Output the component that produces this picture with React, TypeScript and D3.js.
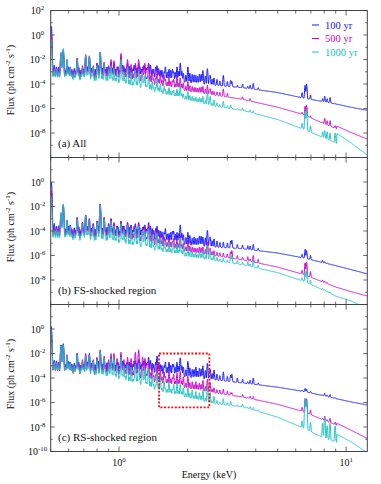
import React from 'react';
import * as d3 from 'd3';

const AGES = ['100 yr', '500 yr', '1000 yr'];
const COLORS = ['#1414ff', '#c800c8', '#20c0c0'];
const PANEL_LABELS = ['(a) All', '(b) FS-shocked region', '(c) RS-shocked region'];
const Y_LABELS = [[2, 0, -2, -4, -6, -8], [0, -2, -4, -6, -8], [0, -2, -4, -6, -8, -10]];
const X_LABELS = [1, 10];

// continuum knots (keV) and log10 flux per panel / age
const CONT_E = [0.5, 0.6, 0.75, 0.9, 1.1, 1.3, 1.6, 2.0, 2.6, 3.5, 5.0, 6.5, 8.0, 9.09, 9.11, 10.5, 12.4];

const CONT_ALL_100 = [-3.0, -3.3, -3.4, -3.4, -3.35, -3.4, -3.6, -3.9, -4.1, -4.3, -4.7, -5.15, -5.45, -5.65, -5.65, -5.9, -6.15];
const CONT_ALL_500 = [-3.3, -3.55, -3.65, -3.7, -3.8, -3.95, -4.2, -4.6, -4.9, -5.25, -5.9, -6.5, -7.25, -7.65, -7.45, -7.95, -8.5];
const CONT_ALL_1000 = [-3.4, -3.6, -3.8, -3.95, -4.2, -4.45, -4.85, -5.3, -5.8, -6.15, -6.9, -7.7, -8.4, -8.85, -8.05, -8.8, -9.8];

const CONT_FS_100 = [-3.9, -4.3, -4.45, -4.5, -4.5, -4.55, -4.8, -5.15, -5.3, -5.45, -5.8, -6.2, -6.6, -6.85, -6.85, -7.15, -7.5];
const CONT_FS_500 = [-4.3, -4.55, -4.65, -4.75, -4.85, -5.0, -5.3, -5.7, -6.0, -6.35, -6.95, -7.55, -8.2, -8.6, -8.6, -8.95, -9.3];
const CONT_FS_1000 = [-4.5, -4.7, -4.85, -5.0, -5.25, -5.45, -5.75, -6.1, -6.4, -6.75, -7.4, -8.1, -8.85, -9.35, -9.35, -9.7, -10.35];

const CONT_RS_100 = [-3.1, -3.35, -3.5, -3.55, -3.5, -3.5, -3.7, -3.95, -4.15, -4.4, -4.75, -5.1, -5.45, -5.7, -5.7, -5.95, -6.2];
const CONT_RS_500 = [-3.35, -3.6, -3.75, -3.9, -4.05, -4.2, -4.45, -4.85, -5.2, -5.55, -6.15, -6.75, -7.45, -7.85, -7.7, -8.25, -8.95];
const CONT_RS_1000 = [-3.3, -3.55, -3.8, -4.05, -4.4, -4.7, -5.2, -5.6, -6.1, -6.35, -7.2, -8.1, -8.9, -9.25, -8.6, -9.2, -10.1];

// strong emission lines (keV) and log10 peak flux per panel / age
const LINE_E = [
  0.503, 0.53, 0.555, 0.568, 0.59, 0.61, 0.654, 0.69, 0.713, 0.74,
  0.77, 0.80, 0.826, 0.86, 0.90, 0.922, 0.95, 0.98, 1.02, 1.05,
  1.09, 1.13, 1.18, 1.22, 1.27, 1.30, 1.35, 1.40, 1.47, 1.52,
  1.58, 1.66, 1.74, 1.80, 1.86, 1.92, 2.01, 2.10, 2.18, 2.26,
  2.34, 2.45, 2.52, 2.62, 2.88, 3.10, 3.14, 3.32, 3.69, 3.90,
  4.10, 6.40, 6.60, 6.70, 6.97, 7.88, 8.05, 8.25, 8.50, 8.95,
];

const LINE_ALL_100 = [
  0.7, -2.6, -1.5, -1.3, -2.2, -2.7, -1.9, -2.7, -1.75, -1.8,
  -2.7, -2.3, -1.5, -2.3, -2.6, -2.2, -2.3, -2.8, -1.8, -2.7,
  -2.3, -2.7, -2.5, -2.3, -2.8, -2.6, -2.3, -2.8, -2.5, -2.9,
  -3.0, -2.8, -3.0, -2.6, -2.3, -3.1, -2.6, -3.2, -3.3, -3.2,
  -2.9, -2.75, -3.3, -3.5, -3.3, -3.7, -3.8, -4.1, -4.2, -3.95,
  -4.3, -4.7, -4.1, -4.0, -4.9, -5.2, -5.0, -5.2, -5.1, -5.6,
];
const LINE_ALL_500 = [
  0.0, -2.7, -1.45, -1.2, -2.0, -2.6, -1.9, -2.5, -1.6, -1.7,
  -2.5, -2.3, -1.4, -2.2, -2.5, -2.0, -2.1, -2.6, -1.5, -2.5,
  -2.0, -2.4, -2.3, -2.0, -2.6, -2.3, -2.4, -2.9, -2.8, -3.2,
  -3.3, -3.5, -3.6, -3.4, -3.5, -3.9, -3.8, -4.2, -4.3, -4.3,
  -4.2, -4.1, -4.4, -4.6, -4.4, -5.2, -5.2, -5.4, -5.6, -5.45,
  -5.9, -6.3, -5.8, -5.75, -6.6, -7.1, -6.8, -7.0, -7.0, -7.4,
];
const LINE_ALL_1000 = [
  -0.4, -2.8, -1.4, -1.1, -2.0, -2.6, -2.0, -2.7, -1.65, -1.75,
  -2.6, -2.5, -1.4, -2.3, -2.8, -2.5, -2.7, -3.0, -2.0, -3.0,
  -2.6, -3.0, -2.9, -2.9, -3.2, -3.3, -3.3, -3.8, -3.6, -4.0,
  -4.2, -4.3, -4.5, -4.4, -4.1, -4.8, -4.6, -5.0, -5.1, -5.1,
  -5.0, -4.65, -5.0, -5.3, -5.4, -5.7, -5.9, -6.0, -6.3, -6.2,
  -6.6, -7.2, -6.2, -6.15, -7.4, -7.9, -7.8, -7.9, -8.0, -8.0,
];

const LINE_FS_100 = [
  0.0, -3.6, -2.6, -1.9, -3.2, -3.5, -2.9, -3.3, -2.7, -3.0,
  -3.4, -3.2, -1.8, -2.9, -3.4, -3.0, -3.4, -3.6, -3.2, -3.6,
  -3.3, -3.5, -3.4, -3.3, -3.7, -3.5, -3.3, -3.8, -3.6, -4.0,
  -4.1, -4.2, -4.0, -4.1, -3.5, -4.3, -4.1, -4.6, -4.6, -4.4,
  -4.5, -3.95, -4.5, -4.65, -4.9, -4.8, -4.75, -5.1, -5.2, -5.1,
  -5.4, -5.9, -5.5, -5.6, -6.0, -6.4, -6.5, -6.6, -6.7, -6.8,
];
const LINE_FS_500 = [
  -0.7, -3.8, -2.6, -1.85, -3.1, -3.6, -2.9, -3.3, -2.7, -3.0,
  -3.4, -3.2, -1.85, -2.9, -3.4, -3.0, -3.3, -3.6, -3.2, -3.6,
  -3.3, -3.6, -3.5, -3.4, -3.8, -3.7, -3.5, -4.0, -3.9, -4.3,
  -4.5, -4.6, -4.6, -4.7, -4.4, -5.0, -4.8, -5.3, -5.4, -5.3,
  -5.3, -4.9, -5.4, -5.6, -5.8, -5.7, -5.6, -6.0, -6.1, -6.0,
  -6.3, -7.2, -6.6, -6.55, -7.3, -8.0, -8.1, -8.2, -8.4, -8.6,
];
const LINE_FS_1000 = [
  -1.2, -3.9, -2.45, -1.8, -3.1, -3.6, -3.0, -3.4, -2.75, -3.1,
  -3.6, -3.3, -1.9, -3.0, -3.6, -3.2, -3.6, -3.8, -3.4, -3.9,
  -3.5, -3.8, -3.7, -3.6, -4.0, -4.0, -3.8, -4.3, -4.2, -4.6,
  -4.8, -4.9, -5.0, -5.1, -4.6, -5.3, -5.3, -5.7, -5.8, -5.7,
  -5.6, -5.2, -5.8, -5.9, -6.2, -6.1, -6.0, -6.4, -6.5, -6.4,
  -6.8, -7.8, -7.3, -7.25, -8.0, -8.7, -8.8, -8.9, -9.0, -9.3,
];

const LINE_RS_100 = [
  0.2, -2.6, -1.3, -1.2, -2.3, -2.7, -2.0, -2.7, -2.2, -2.0,
  -2.6, -2.4, -1.8, -2.4, -2.8, -2.3, -2.3, -2.8, -2.2, -2.8,
  -2.7, -2.8, -2.6, -2.5, -2.8, -2.6, -2.3, -2.8, -2.2, -2.9,
  -3.0, -2.7, -2.9, -2.7, -2.35, -3.1, -2.65, -3.3, -3.1, -3.2,
  -3.0, -2.8, -3.3, -3.35, -3.5, -3.75, -3.7, -4.0, -4.3, -4.0,
  -4.4, -5.0, -4.85, -4.9, -5.1, -5.4, -5.25, -5.4, -5.35, -5.6,
];
const LINE_RS_500 = [
  -0.3, -2.7, -1.5, -1.3, -2.1, -2.7, -2.0, -2.5, -2.0, -2.1,
  -2.5, -2.3, -1.7, -2.2, -2.5, -2.0, -2.0, -2.4, -1.9, -2.5,
  -2.3, -2.4, -1.9, -1.7, -2.3, -2.4, -2.6, -3.0, -2.9, -3.4,
  -3.5, -3.5, -3.7, -3.6, -3.45, -3.9, -3.85, -4.3, -4.3, -4.4,
  -4.2, -4.1, -4.4, -4.8, -4.9, -5.2, -5.2, -5.5, -5.6, -5.5,
  -5.8, -6.4, -5.7, -5.7, -6.6, -7.3, -7.1, -7.4, -7.3, -7.6,
];
const LINE_RS_1000 = [
  0.0, -2.8, -1.4, -1.3, -2.2, -2.7, -2.1, -2.7, -2.2, -2.1,
  -2.6, -2.5, -1.8, -2.4, -2.9, -2.4, -2.3, -3.0, -2.3, -3.0,
  -2.9, -3.1, -2.9, -2.8, -3.2, -3.3, -3.2, -3.8, -3.6, -4.0,
  -4.3, -4.3, -4.5, -4.4, -4.5, -4.8, -4.8, -5.0, -5.1, -5.2,
  -5.0, -4.7, -5.2, -5.5, -5.7, -5.9, -6.2, -6.2, -6.4, -6.4,
  -6.6, -7.5, -5.65, -5.8, -7.6, -7.7, -7.16, -7.9, -7.7, -7.9,
];

// weak line forest (keV) and height above continuum (dex) per age
const WEAK_E = [
  0.518, 0.542, 0.562, 0.58, 0.60, 0.62, 0.635, 0.645, 0.665, 0.68,
  0.70, 0.725, 0.732, 0.755, 0.762, 0.785, 0.81, 0.835, 0.845, 0.872,
  0.885, 0.91, 0.935, 0.965, 0.99, 1.005, 1.035, 1.065, 1.08, 1.11,
  1.15, 1.165, 1.20, 1.235, 1.255, 1.285, 1.32, 1.335, 1.375, 1.42,
  1.45, 1.495, 1.545, 1.60, 1.63, 1.69, 1.72, 1.77, 1.83, 1.89,
  1.97, 2.05, 2.14, 2.22, 2.30, 2.40, 2.50, 2.57, 2.70, 2.78,
  3.0, 3.5, 3.78,
];
const WEAK_100 = [
  0.6, 0.5, 0.8, 0.4, 0.7, 0.5, 0.6, 0.4, 0.7, 0.5,
  0.6, 0.8, 0.5, 0.7, 0.4, 0.6, 0.9, 0.5, 0.7, 0.6,
  0.8, 0.5, 0.7, 0.6, 0.8, 0.5, 0.9, 0.6, 0.7, 0.8,
  0.6, 0.9, 0.7, 0.8, 0.6, 0.9, 0.7, 0.8, 1.0, 0.7,
  0.9, 0.8, 0.7, 1.0, 0.6, 0.8, 0.9, 0.7, 0.8, 0.9,
  0.6, 0.8, 0.7, 0.6, 0.8, 0.7, 0.6, 0.5, 0.5, 0.4,
  0.4, 0.3, 0.3,
];
const WEAK_500 = [
  0.7, 0.6, 0.8, 0.5, 0.8, 0.6, 0.7, 0.5, 0.8, 0.6,
  0.7, 0.9, 0.6, 0.8, 0.5, 0.7, 0.9, 0.6, 0.8, 0.7,
  0.9, 0.6, 0.8, 0.7, 0.9, 0.6, 0.9, 0.7, 0.8, 0.8,
  0.6, 0.7, 0.7, 0.6, 0.5, 0.7, 0.5, 0.6, 0.7, 0.5,
  0.6, 0.5, 0.5, 0.6, 0.4, 0.5, 0.6, 0.4, 0.5, 0.5,
  0.4, 0.5, 0.4, 0.4, 0.5, 0.4, 0.4, 0.3, 0.3, 0.3,
  0.3, 0.2, 0.2,
];
const WEAK_1000 = [
  0.6, 0.5, 0.7, 0.4, 0.7, 0.5, 0.6, 0.4, 0.6, 0.5,
  0.6, 0.7, 0.5, 0.6, 0.4, 0.5, 0.7, 0.4, 0.6, 0.5,
  0.6, 0.4, 0.5, 0.5, 0.6, 0.4, 0.6, 0.5, 0.5, 0.5,
  0.4, 0.5, 0.5, 0.4, 0.4, 0.5, 0.4, 0.4, 0.5, 0.4,
  0.4, 0.4, 0.3, 0.4, 0.3, 0.4, 0.4, 0.3, 0.4, 0.4,
  0.3, 0.4, 0.3, 0.3, 0.4, 0.3, 0.3, 0.2, 0.3, 0.2,
  0.2, 0.2, 0.2,
];
const WEAK = [WEAK_100, WEAK_500, WEAK_1000];

// zoom box in panel (c)
const BOX_E = [1.5, 2.5];
const BOX_F = [1e-2, 4e-7];

const PANELS = [
  { cont: [CONT_ALL_100, CONT_ALL_500, CONT_ALL_1000], lines: [LINE_ALL_100, LINE_ALL_500, LINE_ALL_1000] },
  { cont: [CONT_FS_100, CONT_FS_500, CONT_FS_1000], lines: [LINE_FS_100, LINE_FS_500, LINE_FS_1000] },
  { cont: [CONT_RS_100, CONT_RS_500, CONT_RS_1000], lines: [LINE_RS_100, LINE_RS_500, LINE_RS_1000] },
];

const W = 381;
const H = 484;
const LEFT = 50.7;
const RIGHT = 367.3;
const TOP = 10.5;
const PH = 147;
const FONT = 'Liberation Serif, Times New Roman, DejaVu Serif, serif';
const INK = '#111';

const x = d3.scaleLog().domain([0.5, 12.4]).range([LEFT, RIGHT]);
const SIGMA = 0.35 / (x(10) - x(1)); // line width in log10(E)
const lo = Math.log10(0.5);
const hi = Math.log10(12.4);
const GRID = d3.range(0, 3201).map(k => lo + (hi - lo) * k / 3200);

function buildSpectrum(cont: number[], peaks: number[], weak: number[]) {
  const contLog = d3.scaleLinear().domain(CONT_E.map(Math.log10)).range(cont);
  const lineLog = LINE_E.map(Math.log10).concat(WEAK_E.map(Math.log10));
  const amp = LINE_E.map((e, i) => Math.max(0, 10 ** peaks[i] - 10 ** contLog(Math.log10(e))))
    .concat(WEAK_E.map((e, i) => 10 ** contLog(Math.log10(e)) * (10 ** weak[i] - 1)));
  return GRID.map(le => {
    let f = 10 ** contLog(le);
    for (let i = 0; i < lineLog.length; i++) {
      const d = (le - lineLog[i]) / SIGMA;
      if (Math.abs(d) < 7) f += amp[i] * Math.exp(-0.5 * d * d);
    }
    return [10 ** le, f] as [number, number];
  });
}

function Pow({ exp, x: px, y: py, size = 10 }: any) {
  return (
    <text x={px} y={py} textAnchor="middle" fontSize={size} fill={INK} fontFamily={FONT}>
      10<tspan dy={-4} fontSize={size * 0.68}>{exp}</tspan>
    </text>
  );
}

export default function App() {
  return (
    <div>
      <style>{'body{margin:0}'}</style>
      <svg width={W} height={H} style={{ display: 'block' }} fontFamily={FONT}>
        <rect width={W} height={H} fill="white" />
        <defs>
          {PANELS.map((_, p) => (
            <clipPath id={`clip${p}`} key={p}>
              <rect x={LEFT} y={TOP + p * PH} width={RIGHT - LEFT} height={PH} />
            </clipPath>
          ))}
        </defs>
        {PANELS.map((panel, p) => {
          const top = TOP + p * PH;
          const bottom = top + PH;
          const y = d3.scaleLog().domain([1e-10, 1e2]).range([bottom, top]);
          const line = d3.line<[number, number]>()
            .x(d => x(d[0]))
            .y(d => y(Math.max(d[1], 1e-11)));
          const xTicks = x.ticks();
          const decades = d3.range(-10, 3);
          return (
            <g key={p}>
              <g clipPath={`url(#clip${p})`}>
                {panel.cont.map((c, s) => (
                  <path key={s} d={line(buildSpectrum(c, panel.lines[s], WEAK[s])) || ''}
                    fill="none" stroke={COLORS[s]} strokeWidth={1} strokeLinejoin="round" />
                ))}
              </g>
              <rect x={LEFT} y={top} width={RIGHT - LEFT} height={PH} fill="none" stroke="#444" strokeWidth={1} />
              {xTicks.map((t, i) => {
                const major = Math.abs(Math.log10(t) - Math.round(Math.log10(t))) < 1e-6;
                const len = major ? 5 : 3;
                return (
                  <g key={i} stroke="#444" strokeWidth={0.8}>
                    <line x1={x(t)} x2={x(t)} y1={bottom} y2={bottom - len} />
                    <line x1={x(t)} x2={x(t)} y1={top} y2={top + len} />
                  </g>
                );
              })}
              {decades.map(dk => {
                const len = dk % 2 === 0 ? 4 : 2;
                const yy = y(10 ** dk);
                return (
                  <g key={dk} stroke="#444" strokeWidth={0.8}>
                    <line x1={LEFT} x2={LEFT + len} y1={yy} y2={yy} />
                    <line x1={RIGHT} x2={RIGHT - len} y1={yy} y2={yy} />
                  </g>
                );
              })}
              {Y_LABELS[p].map(dk => (
                <Pow key={dk} exp={String(dk)} x={37.5} y={y(10 ** dk) + 3.5} />
              ))}
              <text transform={`translate(14,${(top + bottom) / 2 - 4}) rotate(-90)`} textAnchor="middle"
                fontSize={10} fill={INK} fontFamily={FONT}>
                Flux (ph cm<tspan dy={-4} fontSize={7}>-2</tspan><tspan dy={4}> s</tspan><tspan dy={-4} fontSize={7}>-1</tspan><tspan dy={4}>)</tspan>
              </text>
              <text x={58} y={bottom - 11} fontSize={11} fill={INK} fontFamily={FONT}>{PANEL_LABELS[p]}</text>
              {p === 2 && (
                <rect x={x(BOX_E[0])} y={y(BOX_F[0])} width={x(BOX_E[1]) - x(BOX_E[0])} height={y(BOX_F[1]) - y(BOX_F[0])}
                  fill="none" stroke="#e8141e" strokeWidth={1.8} strokeDasharray="2,1.6" />
              )}
              {p === 2 && X_LABELS.map(t => (
                <Pow key={t} exp={String(Math.log10(t))} x={x(t)} y={bottom + 14} />
              ))}
            </g>
          );
        })}
        <text x={(LEFT + RIGHT) / 2} y={478} textAnchor="middle" fontSize={10} fill={INK} fontFamily={FONT}>Energy (keV)</text>
        {AGES.map((a, i) => (
          <g key={a}>
            <line x1={312} x2={319} y1={25 + i * 13.5} y2={25 + i * 13.5} stroke={COLORS[i]} strokeWidth={1} />
            <text x={325} y={28.5 + i * 13.5} fontSize={10.5} fill={COLORS[i]} fontFamily={FONT}>{a}</text>
          </g>
        ))}
      </svg>
    </div>
  );
}
